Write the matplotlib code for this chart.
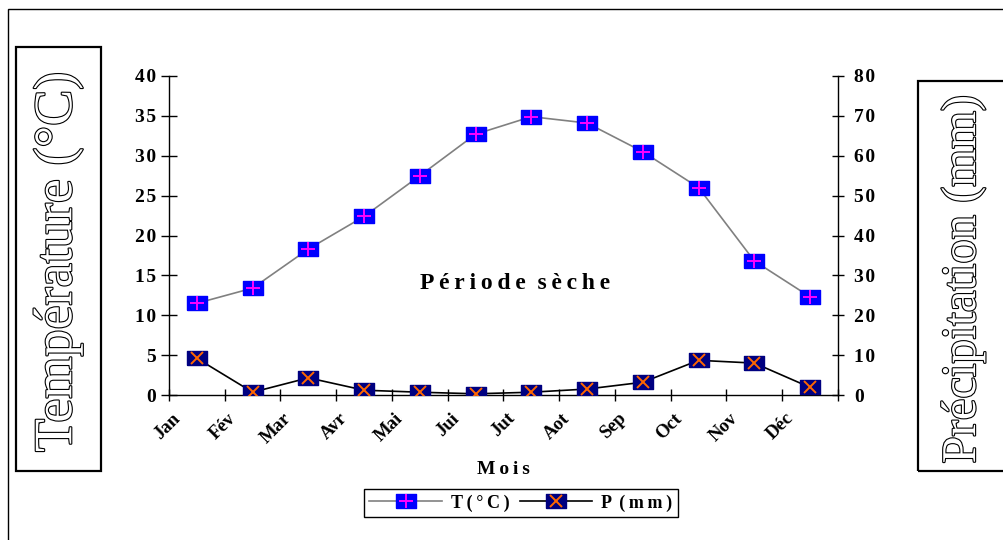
import matplotlib
matplotlib.use("Agg")
from matplotlib import pyplot as plt
from matplotlib.lines import Line2D
from matplotlib.patches import Rectangle
from matplotlib.legend_handler import HandlerTuple
import matplotlib.patheffects as pe
import numpy as np

months = ['Jan', 'Fév', 'Mar', 'Avr', 'Mai', 'Jui', 'Jut', 'Aot', 'Sep', 'Oct', 'Nov', 'Déc']
temperature = [11.5, 13.4, 18.3, 22.4, 27.5, 32.7, 34.9, 34.1, 30.5, 26.0, 16.8, 12.3]
precipitation = [9.2, 0.7, 4.3, 1.2, 0.7, 0.3, 0.7, 1.5, 3.2, 8.7, 8.0, 1.9]
temp_ticks = [0, 5, 10, 15, 20, 25, 30, 35, 40]
prec_ticks = [0, 10, 20, 30, 40, 50, 60, 70, 80]

plt.rcParams['font.family'] = ['Liberation Serif', 'DejaVu Serif']
plt.rcParams['font.weight'] = 'bold'

W, H = 1004, 540
fig = plt.figure(figsize=(W / 100, H / 100), dpi=100)

def fx(px):
    return px / W

def fy(py):
    return 1 - py / H

def spaced(s, sep='\u2009'):
    # excel-like letter spacing
    return sep.join(s)

# main axes box in pixels: x 169..838, y 76..395
ax = fig.add_axes([fx(169), fy(395), fx(838) - fx(169), fy(76) - fy(395)])
ax2 = ax.twinx()

x = np.arange(len(months)) + 0.5

# rectangular marker (wider than tall)
rect = [(-1.4, -1), (1.4, -1), (1.4, 1), (-1.4, 1), (-1.4, -1)]

ax.plot(x, temperature, color='#808080', lw=1.2, marker=rect, markersize=15,
        markerfacecolor='#0000ff', markeredgecolor='#0000ff', zorder=3)
ax.plot(x, temperature, ls='none', marker='+', markersize=10, markeredgewidth=1.4,
        color='#ff00ff', zorder=4)

ax2.plot(x, precipitation, color='black', lw=1.2, marker=rect, markersize=15,
         markerfacecolor='#000080', markeredgecolor='#000080', zorder=3)
ax2.plot(x, precipitation, ls='none', marker='x', markersize=8.5, markeredgewidth=1.4,
         color='#ff6600', zorder=4)

ax.set_xlim(0, 12)
ax.set_ylim(0, 40)
ax2.set_ylim(0, 80)
ax.set_yticks(temp_ticks, [spaced(str(t), '\u200a') for t in temp_ticks])
ax2.set_yticks(prec_ticks, [spaced(str(t), '\u200a') for t in prec_ticks])

ax.set_xticks(np.arange(13))
ax.set_xticklabels([])
ax.set_xticks(np.arange(12) + 0.15, months, minor=True, rotation=45,
              ha='right', va='center', rotation_mode='anchor')
ax.tick_params(axis='x', which='major', direction='inout', length=8, width=1)
ax.tick_params(axis='x', which='minor', length=0, pad=15, labelsize=13.5)

ax.tick_params(axis='y', direction='inout', length=11, width=1, labelsize=14, pad=4)
ax2.tick_params(axis='y', direction='inout', length=9, width=1, labelsize=14, pad=7)

for a in (ax, ax2):
    a.spines['top'].set_visible(False)
    for s in ('left', 'right', 'bottom'):
        a.spines[s].set_linewidth(1)
ax.spines['right'].set_visible(False)
ax2.spines['left'].set_visible(False)
ax2.spines['bottom'].set_visible(False)

ax.text(6.2, 14, spaced('Période') + '  ' + spaced('sèche'),
        ha='center', va='center', fontsize=17, fontweight='bold')

fig.text(fx(503), fy(470), spaced('Mois'), ha='center', va='center', fontsize=14,
         fontweight='bold')

# outer frame and label boxes
fig.patches.append(Rectangle((fx(8), -0.1), 1.2, fy(9) + 0.1, fill=False,
                             edgecolor='black', lw=1, transform=fig.transFigure))
fig.patches.append(Rectangle((fx(16), fy(471)), fx(101) - fx(16), fy(47) - fy(471),
                             fill=False, edgecolor='black', lw=1.6,
                             transform=fig.transFigure))
fig.patches.append(Rectangle((fx(918), fy(471)), fx(1015) - fx(918), fy(81) - fy(471),
                             fill=False, edgecolor='black', lw=1.6,
                             transform=fig.transFigure))

outline = [pe.withStroke(linewidth=1.6, foreground='black')]
fig.text(fx(58), fy(262), 'Température (°C)', rotation=90, ha='center', va='center',
         fontsize=39, fontweight='normal', color='white', path_effects=outline)
fig.text(fx(963), fy(279), 'Précipitation (mm)', rotation=90, ha='center', va='center',
         fontsize=35, fontweight='normal', color='white', path_effects=outline)

# legend
h_t = (Line2D([], [], color='#808080', lw=1.2, marker=rect, markersize=15,
              markerfacecolor='#0000ff', markeredgecolor='#0000ff'),
       Line2D([], [], ls='none', marker='+', markersize=10, markeredgewidth=1.4,
              color='#ff00ff'))
h_p = (Line2D([], [], color='black', lw=1.2, marker=rect, markersize=15,
              markerfacecolor='#000080', markeredgecolor='#000080'),
       Line2D([], [], ls='none', marker='x', markersize=8.5, markeredgewidth=1.4,
              color='#ff6600'))
leg = fig.legend([h_t, h_p], [spaced('T(°C)'), 'P\u2009\u2009(\u2009m\u2009m\u2009)'],
                 ncol=2, loc='center',
                 bbox_to_anchor=(fx(521), fy(503)), bbox_transform=fig.transFigure,
                 handler_map={tuple: HandlerTuple(ndivide=1)},
                 fancybox=False, edgecolor='black', framealpha=1,
                 prop={'size': 13, 'weight': 'bold'}, handlelength=4.0,
                 columnspacing=0.6, handletextpad=0.5, borderpad=0.3)
leg.get_frame().set_linewidth(1)

fig.savefig('out.png', dpi=100)
